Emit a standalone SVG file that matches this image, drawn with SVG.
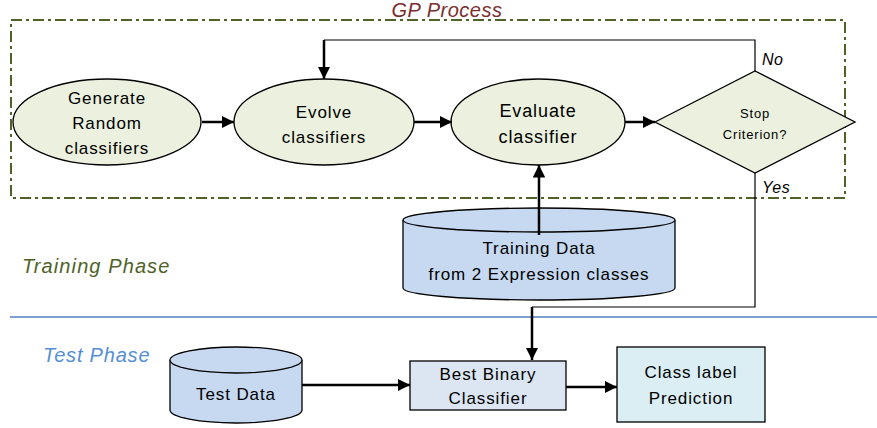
<svg xmlns="http://www.w3.org/2000/svg" width="877" height="428" viewBox="0 0 877 428">
<defs>
<marker id="ah" viewBox="0 0 10 10" refX="10" refY="5" markerWidth="5" markerHeight="5" orient="auto" markerUnits="strokeWidth">
<path d="M0,0 L10,5 L0,10 z" fill="#000"/>
</marker>
</defs>
<style>
text{font-family:"Liberation Sans",Arial,sans-serif;fill:#000;}
.n{font-size:17px;letter-spacing:0.9px;text-anchor:middle;}
.s{font-size:13px;letter-spacing:0.8px;text-anchor:middle;}
.it{font-style:italic;}
.ell{fill:#ebf1de;stroke:#000;stroke-width:1.3;}
.cyl{fill:#c6d9f1;stroke:#000;stroke-width:1.3;}
.c{fill:none;stroke:#000;stroke-width:2.5;}
.t{fill:none;stroke:#000;stroke-width:1.2;}
</style>
<rect x="11" y="20" width="834" height="178" fill="none" stroke="#4f6228" stroke-width="2" stroke-dasharray="11,4,3,4"/>
<text x="447" y="17" class="it" font-size="20" text-anchor="middle" style="fill:#7b2e2e;letter-spacing:0.5px">GP Process</text>
<text x="22" y="273" class="it" font-size="20" style="fill:#4f6228;letter-spacing:1.1px">Training Phase</text>
<text x="43" y="362" class="it" font-size="20" style="fill:#558ed5;letter-spacing:0.8px">Test Phase</text>
<line x1="10" y1="317" x2="877" y2="317" stroke="#4f81bd" stroke-width="1.3"/>

<g id="generate">
<ellipse class="ell" cx="107" cy="122" rx="94" ry="43"/>
<text class="n" x="107" y="104">Generate</text>
<text class="n" x="107" y="129">Random</text>
<text class="n" x="107" y="154">classifiers</text>
</g>
<g id="evolve">
<ellipse class="ell" cx="324" cy="122" rx="90" ry="43"/>
<text class="n" x="324" y="118">Evolve</text>
<text class="n" x="324" y="143">classifiers</text>
</g>
<g id="evaluate">
<ellipse class="ell" cx="538" cy="122" rx="87" ry="43"/>
<text class="n" x="538" y="117" style="font-size:18px">Evaluate</text>
<text class="n" x="538" y="143" style="font-size:18px">classifier</text>
</g>
<g id="stop">
<polygon points="655,122 755,71 855,122 755,173" fill="#ebf1de" stroke="#000" stroke-width="1.3"/>
<text class="s" x="755" y="118">Stop</text>
<text class="s" x="755" y="139">Criterion?</text>
</g>
<g id="training-data">
<path class="cyl" d="M403,220 L403,288 A136,12 0 0 0 675,288 L675,220 A136,12 0 0 0 403,220 Z"/>
<path class="cyl" d="M403,220 A136,12 0 0 0 675,220"/>
<text class="n" x="539" y="254">Training Data</text>
<text class="n" x="539" y="280">from 2 Expression classes</text>
</g>
<g id="test-data">
<path class="cyl" d="M170,360 L170,410 A66,13 0 0 0 302,410 L302,360 A66,13 0 0 0 170,360 Z"/>
<path class="cyl" d="M170,360 A66,13 0 0 0 302,360"/>
<text class="n" x="236" y="400">Test Data</text>
</g>
<g id="best-binary">
<rect x="410" y="361" width="156" height="49" fill="#dce6f2" stroke="#000" stroke-width="1.3"/>
<text class="n" x="488" y="380">Best Binary</text>
<text class="n" x="488" y="404">Classifier</text>
</g>
<g id="class-label">
<rect x="617" y="347" width="148" height="75" fill="#daeef3" stroke="#000" stroke-width="1.3"/>
<text class="n" x="691" y="378">Class label</text>
<text class="n" x="691" y="404">Prediction</text>
</g>
<text x="762" y="65" class="it" font-size="16" style="letter-spacing:0.5px">No</text>
<text x="762" y="193" class="it" font-size="16" style="letter-spacing:0.5px">Yes</text>

<g id="connectors">
<line class="c" x1="202" y1="122" x2="234" y2="122" marker-end="url(#ah)"/>
<line class="c" x1="414" y1="122" x2="452" y2="122" marker-end="url(#ah)"/>
<line class="c" x1="625" y1="122" x2="655" y2="122" marker-end="url(#ah)"/>
<polyline class="t" points="755,71 755,40 324,40"/>
<line class="c" x1="324" y1="40" x2="324" y2="79" marker-end="url(#ah)"/>
<line class="c" x1="539" y1="235" x2="539" y2="165" marker-end="url(#ah)"/>
<polyline class="t" points="755,173 755,307 532,307"/>
<line class="c" x1="532" y1="307" x2="532" y2="360" marker-end="url(#ah)"/>
<line class="c" x1="302" y1="385" x2="410" y2="385" marker-end="url(#ah)"/>
<line class="c" x1="566" y1="387" x2="617" y2="387" marker-end="url(#ah)"/>
</g>
</svg>
